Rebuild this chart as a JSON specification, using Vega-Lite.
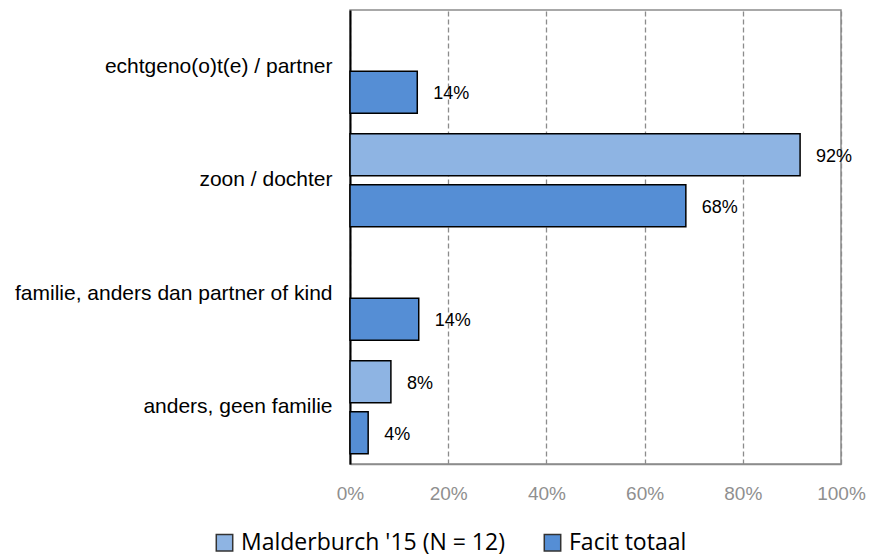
{
  "$schema": "https://vega.github.io/schema/vega-lite/v6.json",
  "width": 491,
  "height": 454,
  "autosize": {"type": "none"},
  "padding": {"left": 350, "top": 10, "right": 28, "bottom": 93},
  "background": "white",
  "config": {
    "font": "Liberation Sans",
    "view": {"stroke": "#8c8c8c", "strokeWidth": 1.5}
  },
  "data": {
    "values": [
      {"cat": "echtgeno(o)t(e) / partner", "series": "Facit totaal", "value": 0.137},
      {"cat": "zoon / dochter", "series": "Malderburch '15 (N = 12)", "value": 0.9167},
      {"cat": "zoon / dochter", "series": "Facit totaal", "value": 0.684},
      {"cat": "familie, anders dan partner of kind", "series": "Facit totaal", "value": 0.14},
      {"cat": "anders, geen familie", "series": "Malderburch '15 (N = 12)", "value": 0.0833},
      {"cat": "anders, geen familie", "series": "Facit totaal", "value": 0.037}
    ]
  },
  "encoding": {
    "y": {
      "field": "cat",
      "type": "nominal",
      "sort": ["echtgeno(o)t(e) / partner", "zoon / dochter", "familie, anders dan partner of kind", "anders, geen familie"],
      "scale": {"paddingInner": 0.18, "paddingOuter": 0.09},
      "axis": {
        "title": null,
        "ticks": false,
        "grid": false,
        "domainColor": "black",
        "domainWidth": 2,
        "labelFontSize": 21,
        "labelColor": "black",
        "labelPadding": 18,
        "labelLimit": 400
      }
    },
    "yOffset": {
      "field": "series",
      "sort": ["Malderburch '15 (N = 12)", "Facit totaal"],
      "scale": {"paddingInner": 0.18}
    },
    "x": {
      "field": "value",
      "type": "quantitative",
      "scale": {"domain": [0, 1]},
      "axis": {
        "title": null,
        "format": ".0%",
        "values": [0, 0.2, 0.4, 0.6, 0.8, 1],
        "ticks": false,
        "domainColor": "#8c8c8c",
        "domainWidth": 1.5,
        "grid": true,
        "gridColor": "#8c8c8c",
        "gridDash": [5, 3],
        "gridWidth": 1.3,
        "labelFontSize": 19,
        "labelColor": "#8f8f8f",
        "labelPadding": 20,
        "labelFlush": false
      }
    }
  },
  "layer": [
    {
      "mark": {"type": "bar", "stroke": "black", "strokeWidth": 1.5},
      "encoding": {
        "color": {
          "field": "series",
          "type": "nominal",
          "scale": {"domain": ["Malderburch '15 (N = 12)", "Facit totaal"], "range": ["#8EB4E3", "#558ED5"]},
          "legend": {
            "title": null,
            "orient": "none",
            "direction": "horizontal",
            "legendX": -137,
            "legendY": 521,
            "symbolType": "square",
            "symbolSize": 270,
            "symbolStrokeColor": "#333333",
            "symbolStrokeWidth": 1.5,
            "symbolOpacity": 1,
            "labelFont": "Open Sans",
            "labelFontSize": 23,
            "labelColor": "black",
            "labelOffset": 5,
            "columnPadding": 36,
            "labelLimit": 400
          }
        }
      }
    },
    {
      "mark": {"type": "text", "align": "left", "baseline": "middle", "dx": 16, "dy": 2, "fontSize": 18, "color": "black"},
      "encoding": {
        "text": {"field": "value", "type": "quantitative", "format": ".0%"}
      }
    }
  ]
}
